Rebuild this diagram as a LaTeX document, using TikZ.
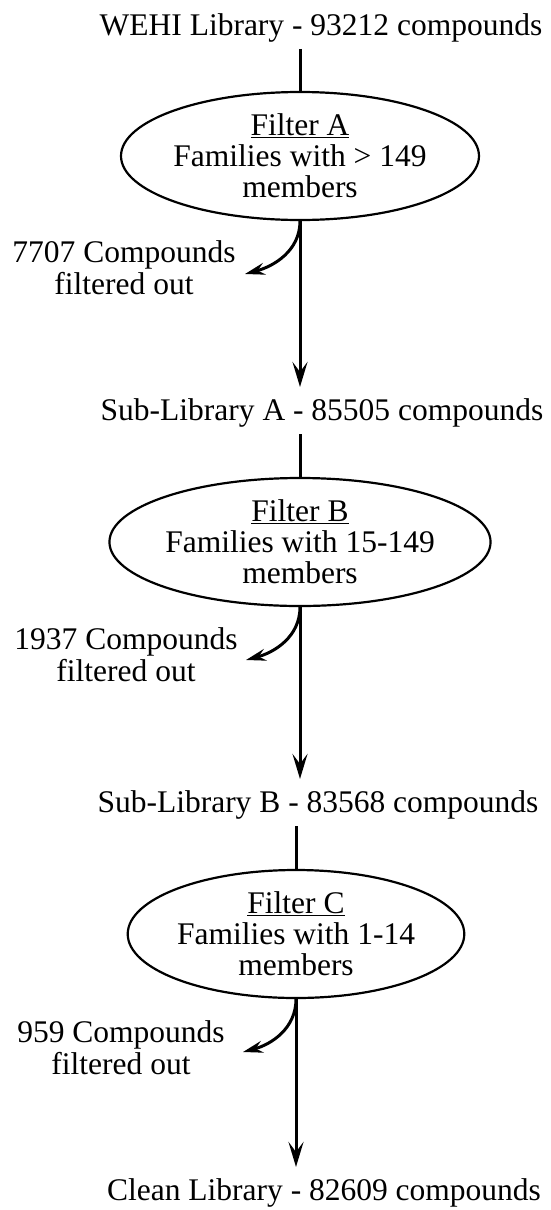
\documentclass[tikz,border=0pt]{standalone}
\usepackage{fontspec}
\setmainfont{Liberation Serif}
\usetikzlibrary{shapes.geometric,arrows.meta}

\tikzset{
  libtext/.style={font=\fontsize{31.5}{32}\selectfont, inner sep=7pt, anchor=base},
  filterbox/.style={draw, ellipse, line width=2.2pt, minimum width=323pt, minimum height=128pt,
    inner sep=0pt, align=center, font=\fontsize{31.5}{31}\selectfont},
  outtext/.style={font=\fontsize{31.5}{32}\selectfont, align=center, inner sep=0pt},
  feed/.style={line width=3pt},
  flow/.style={line width=3pt, shorten >=4pt, -{Stealth[length=25pt,width=15pt,inset=10pt]}},
  outflow/.style={line width=3pt, -{Stealth[length=20pt,width=12pt,inset=7pt]}},
}

\begin{document}
\begin{tikzpicture}[x=1pt,y=-1pt]
  \useasboundingbox (0,0) rectangle (550,1210);

  % filter A
  \node[libtext] (wehi) at (321,35) {WEHI Library - 93212 compounds};
  \node[filterbox] (filtA) at (300,156) {\underline{Filter A}\\Families with > 149\\members};
  \coordinate (outA) at (245,274);
  \node[outtext] (txtA) at (124,268) {7707 Compounds\\filtered out};
  \draw[feed] (filtA.north |- wehi.south) -- (filtA.north);
  \draw[outflow] (filtA.south) to[out=-90,in=15] (outA);

  % filter B
  \node[libtext] (subA) at (322,420) {Sub-Library A - 85505 compounds};
  \draw[flow] (filtA.south) -- (filtA.south |- subA.north);
  \node[filterbox] (filtB) at (300,542) {\underline{Filter B}\\Families with 15-149\\members};
  \coordinate (outB) at (246,660);
  \node[outtext] (txtB) at (126,655) {1937 Compounds\\filtered out};
  \draw[feed] (filtB.north |- subA.south) -- (filtB.north);
  \draw[outflow] (filtB.south) to[out=-90,in=15] (outB);

  % filter C
  \node[libtext] (subB) at (318,812) {Sub-Library B - 83568 compounds};
  \draw[flow] (filtB.south) -- (filtB.south |- subB.north);
  \node[filterbox] (filtC) at (296,934) {\underline{Filter C}\\Families with 1-14\\members};
  \coordinate (outC) at (243,1052);
  \node[outtext] (txtC) at (121,1048) {959 Compounds\\filtered out};
  \draw[feed] (filtC.north |- subB.south) -- (filtC.north);
  \draw[outflow] (filtC.south) to[out=-90,in=15] (outC);

  % clean library
  \node[libtext] (clean) at (324,1200) {Clean Library - 82609 compounds};
  \draw[flow] (filtC.south) -- (filtC.south |- clean.north);
\end{tikzpicture}
\end{document}
